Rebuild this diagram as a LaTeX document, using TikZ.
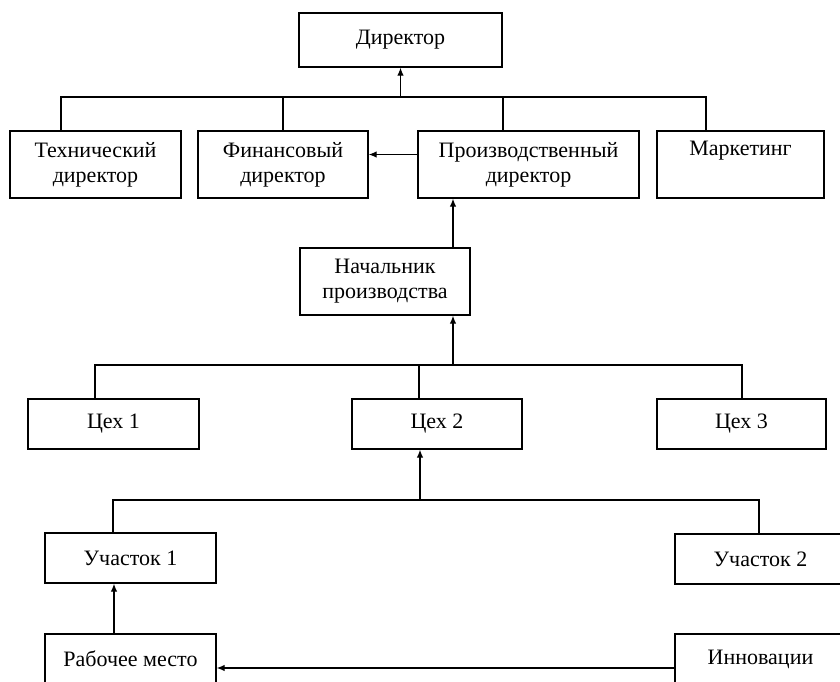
\documentclass[tikz,border=0pt]{standalone}
\usepackage{fontspec}
\setmainfont{Liberation Serif}
\usetikzlibrary{arrows.meta,positioning}

\begin{document}
\begin{tikzpicture}[
    x=1pt, y=-1pt,
    box/.style={draw, line width=1.4pt, align=center, minimum width=171pt, minimum height=50pt, inner sep=2pt},
    tallbox/.style={box, minimum height=67pt},
    wire/.style={line width=1.1pt},
    arrow/.style={-{Latex[length=8pt,width=6.5pt]}, line width=1.1pt},
    font=\fontsize{22}{25}\selectfont
]
\useasboundingbox (0,0) rectangle (840,682);

\node[box, minimum width=203pt, minimum height=54pt] (dir) at (400.5,40) {Директор};
\node[tallbox] (tech) at (95.5,164.5) {Технический\\директор};
\node[tallbox, minimum width=170pt] (fin) at (283,164.5) {Финансовый\\директор};
\node[tallbox, minimum width=221pt] (prod) at (528.5,164.5) {Производственный\\директор};
\node[tallbox, minimum width=167pt] (mark) at (740.5,164.5) {Маркетинг\\\strut};
\node[tallbox, minimum width=170pt] (nach) at (385,281.5) {Начальник\\производства};
\node[box] (c1) at (113.5,424) {Цех 1};
\node[box, minimum width=170pt] (c2) at (437,424) {Цех 2};
\node[box, minimum width=169pt] (c3) at (741.5,424) {Цех 3};
\node[box] (u1) at (130.5,558) {Участок 1};
\node[box] (u2) at (760.5,559) {Участок 2};
\node[box] (rm) at (130.5,659) {Рабочее место};
\node[box] (inn) at (760.5,659) {Инновации};

\coordinate (bus1) at (0,97);
\coordinate (bus2) at (0,365);
\coordinate (bus3) at (0,500);

\draw[wire] (tech.north -| 61,0) -- (bus1 -| 61,0) -- (bus1 -| 706,0) -- (mark.north -| 706,0);
\draw[wire] (fin.north) -- (bus1 -| fin.north);
\draw[wire] (prod.north -| 503,0) -- (bus1 -| 503,0);
\draw[arrow] (bus1 -| dir.south) -- (dir.south);
\draw[arrow] ([yshift=10pt]prod.west) -- ([yshift=10pt]fin.east);
\draw[arrow] (nach.north -| 453,0) -- (prod.south -| 453,0);

\draw[wire] (c1.north -| 95,0) -- (bus2 -| 95,0) -- (bus2 -| 742,0) -- (c3.north -| 742,0);
\draw[wire] (c2.north -| 419,0) -- (bus2 -| 419,0);
\draw[arrow] (bus2 -| 453,0) -- (nach.south -| 453,0);

\draw[wire] (u1.north -| 113,0) -- (bus3 -| 113,0) -- (bus3 -| 759,0) -- (u2.north -| 759,0);
\draw[arrow] (bus3 -| 420,0) -- (c2.south -| 420,0);
\draw[arrow] (rm.north -| 114,0) -- (u1.south -| 114,0);
\draw[arrow] ([yshift=-9pt]inn.west) -- ([yshift=-9pt]rm.east);

\end{tikzpicture}
\end{document}
